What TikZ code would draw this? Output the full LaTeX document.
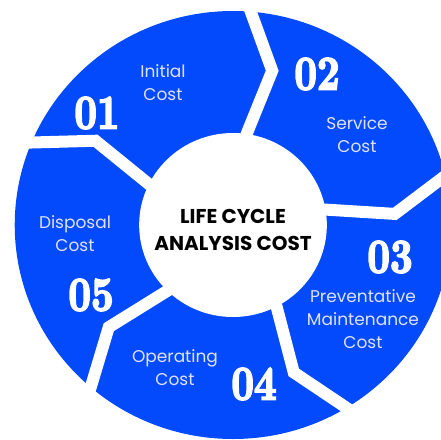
\documentclass[tikz,border=0pt]{standalone}
\usepackage{fontspec}
\usepackage{graphicx}
\setmainfont{Poppins}
\newfontfamily\lblfont{Poppins}
\newfontfamily\numfont{lmroman10-bold}[Extension=.otf, FakeBold=4]
\definecolor{segblue}{RGB}{3,74,252}
\definecolor{lblcol}{RGB}{222,226,255}
\tikzset{
  lbltext/.style={align=center, text=lblcol, inner sep=0pt, font=\lblfont\fontsize{17}{23}\selectfont},
  numtext/.style={text=white, inner sep=0pt, font=\numfont\fontsize{48}{48}\selectfont},
  titletext/.style={align=center, text=black, inner sep=0pt, font=\bfseries\fontsize{20}{27}\selectfont},
  sepline/.style={white, line width=12pt, line join=miter, miter limit=10}
}
\begin{document}
\begin{tikzpicture}[x=1pt,y=-1pt]
\useasboundingbox (0,0) rectangle (441,439);
\fill[white] (0,0) rectangle (441,439);
\begin{scope}[shift={(233,225)}, xscale=1.02, yscale=-1]
  \fill[segblue] (0,0) circle (214);
  \fill[white] (0,0) circle (92);
  \foreach \a in {89,17,-55,-127,-199} {
    \draw[sepline] (\a:60) -- (\a-13:159) -- (\a:250);
  }
\end{scope}
\node[lbltext] (initial) at (163,83) {Initial\\Cost};
\node[lbltext] (service) at (357,135) {Service\\Cost};
\node[lbltext] (prevent) at (363,319) {Preventative\\Maintenance\\Cost};
\node[lbltext] (operating) at (175,367.5) {Operating\\Cost};
\node[lbltext] (disposal) at (75,234) {Disposal\\Cost};
\node[numtext] (n1) at (97,113) {\scalebox{0.82}[1]{01}};
\node[numtext] (n2) at (317,74) {\scalebox{0.82}[1]{02}};
\node[numtext] (n3) at (390,257) {\scalebox{0.82}[1]{03}};
\node[numtext] (n4) at (254,384) {\scalebox{0.82}[1]{04}};
\node[numtext] (n5) at (91,295) {\scalebox{0.82}[1]{05}};
\node[titletext] (title) at (233,229.5) {LIFE CYCLE\\ANALYSIS COST};
\end{tikzpicture}
\end{document}
